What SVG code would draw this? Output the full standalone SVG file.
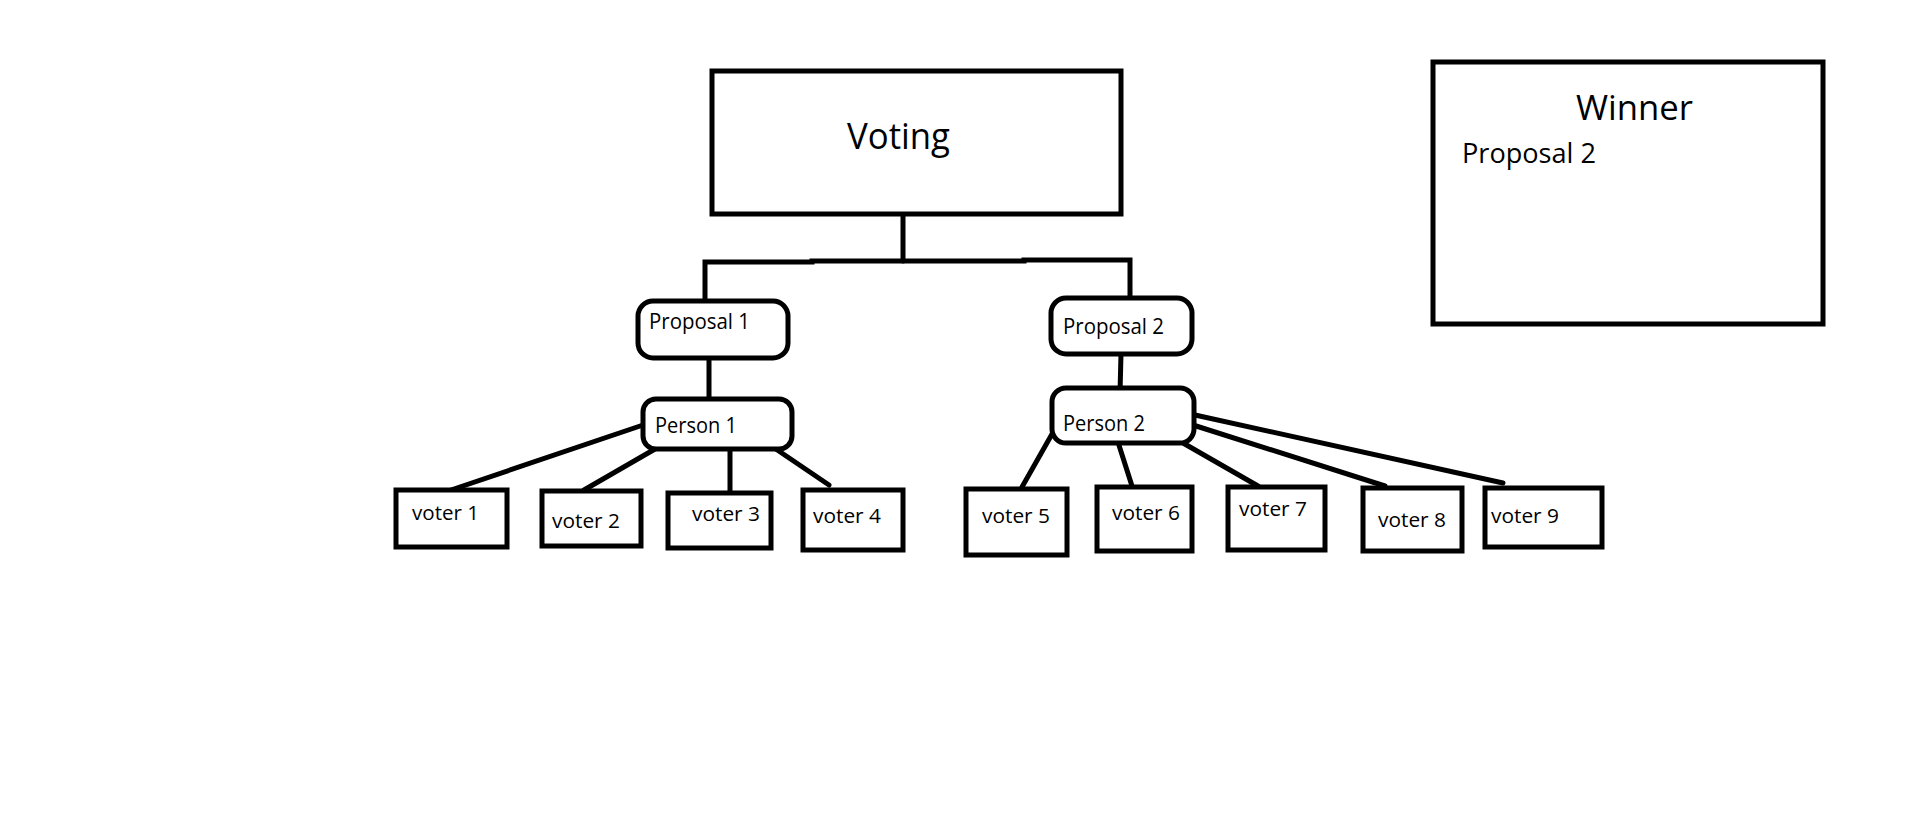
<svg xmlns="http://www.w3.org/2000/svg" width="1914" height="829" viewBox="0 0 1914 829">
  <style>
    .box { fill: #ffffff; stroke: #000000; stroke-width: 5; }
    .wire { fill: none; stroke: #000000; stroke-width: 5; stroke-linecap: round; stroke-linejoin: miter; }
    text { font-family: "Open Sans", "Noto Sans", "Liberation Sans", sans-serif; fill: #000000; }
    .big { font-size: 36px; }
    .mid { font-size: 21px; }
    .small { font-size: 20px; }
  </style>
  <rect width="1914" height="829" fill="#ffffff"/>

  <!-- connectors -->
  <g id="connectors" class="wire">
    <path d="M903 214 L903 261"/>
    <path d="M705 298 L705 262 L812 262 L812 261 L1024 261 L1024 260 L1130 260 L1130 297"/>
    <path d="M709 358 L709 399"/>
    <path d="M1121 354 L1120 393"/>
    <!-- Person 1 to voters -->
    <path d="M649 423 L451 490"/>
    <path d="M655 449 L584 490"/>
    <path d="M730 448 L730 507"/>
    <path d="M767 443 L829 485"/>
    <!-- Person 2 to voters -->
    <path d="M1056 427 L1022 487"/>
    <path d="M1117 439 L1132 486"/>
    <path d="M1183 443 L1258 486"/>
    <path d="M1193 425 L1385 486"/>
    <path d="M1195 415 L1503 483"/>
  </g>

  <g id="voting">
    <rect class="box" x="712" y="71" width="409" height="143"/>
    <text class="big" x="847" y="149" textLength="103" lengthAdjust="spacingAndGlyphs">Voting</text>
  </g>

  <g id="winner">
    <rect class="box" x="1433" y="62" width="390" height="262" stroke-width="5.5"/>
    <text x="1576" y="120" font-size="34" textLength="117" lengthAdjust="spacingAndGlyphs">Winner</text>
    <text x="1462" y="163" font-size="28" textLength="134" lengthAdjust="spacingAndGlyphs">Proposal 2</text>
  </g>

  <g id="proposal-1">
    <rect class="box" x="638" y="301" width="150" height="57" rx="15"/>
    <text class="mid" x="649" y="329" textLength="101" lengthAdjust="spacingAndGlyphs">Proposal 1</text>
  </g>

  <g id="proposal-2">
    <rect class="box" x="1051" y="298" width="141" height="56" rx="15"/>
    <text class="mid" x="1063" y="334" textLength="101" lengthAdjust="spacingAndGlyphs">Proposal 2</text>
  </g>

  <g id="person-1">
    <rect class="box" x="643" y="399" width="149" height="50" rx="13"/>
    <text class="mid" x="655" y="433" textLength="82" lengthAdjust="spacingAndGlyphs">Person 1</text>
  </g>

  <g id="person-2">
    <rect class="box" x="1052" y="388" width="142" height="55" rx="14"/>
    <text class="mid" x="1063" y="431" textLength="82" lengthAdjust="spacingAndGlyphs">Person 2</text>
  </g>

  <g id="voter-1">
    <rect class="box" x="396" y="490" width="111" height="57"/>
    <text class="small" x="412" y="520" textLength="67" lengthAdjust="spacingAndGlyphs">voter 1</text>
  </g>
  <g id="voter-2">
    <rect class="box" x="542" y="491" width="99" height="55"/>
    <text class="small" x="552" y="528" textLength="68" lengthAdjust="spacingAndGlyphs">voter 2</text>
  </g>
  <g id="voter-3">
    <rect class="box" x="668" y="493" width="103" height="55"/>
    <text class="small" x="692" y="521" textLength="68" lengthAdjust="spacingAndGlyphs">voter 3</text>
  </g>
  <g id="voter-4">
    <rect class="box" x="803" y="490" width="100" height="60"/>
    <text class="small" x="813" y="523" textLength="68" lengthAdjust="spacingAndGlyphs">voter 4</text>
  </g>
  <g id="voter-5">
    <rect class="box" x="966" y="489" width="101" height="66"/>
    <text class="small" x="982" y="523" textLength="68" lengthAdjust="spacingAndGlyphs">voter 5</text>
  </g>
  <g id="voter-6">
    <rect class="box" x="1097" y="487" width="95" height="64"/>
    <text class="small" x="1112" y="520" textLength="68" lengthAdjust="spacingAndGlyphs">voter 6</text>
  </g>
  <g id="voter-7">
    <rect class="box" x="1228" y="487" width="97" height="63"/>
    <text class="small" x="1239" y="516" textLength="68" lengthAdjust="spacingAndGlyphs">voter 7</text>
  </g>
  <g id="voter-8">
    <rect class="box" x="1363" y="488" width="99" height="63"/>
    <text class="small" x="1378" y="527" textLength="68" lengthAdjust="spacingAndGlyphs">voter 8</text>
  </g>
  <g id="voter-9">
    <rect class="box" x="1485" y="488" width="117" height="59"/>
    <text class="small" x="1491" y="523" textLength="68" lengthAdjust="spacingAndGlyphs">voter 9</text>
  </g>
</svg>
